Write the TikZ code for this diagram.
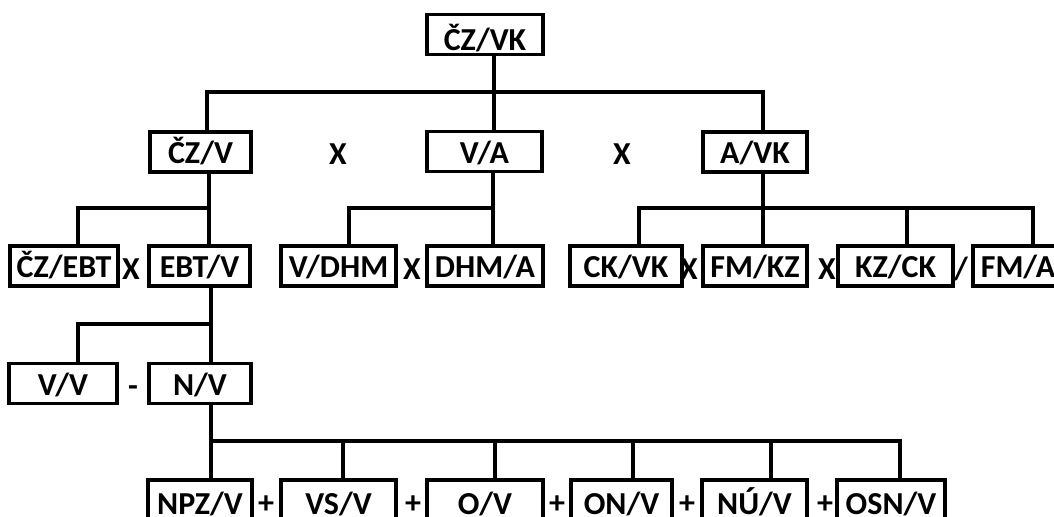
\documentclass[tikz,border=0pt]{standalone}
\usepackage{fontspec}
\setmainfont{Carlito}
\begin{document}
\begin{tikzpicture}[x=0.75pt,y=-0.75pt,
  txt/.style={font=\bfseries\fontsize{24}{27}\selectfont, text height=20.6pt, text depth=3pt, inner sep=0pt},
  box/.style={txt, draw, line width=2.3pt, minimum height=30pt, minimum width=#1*0.75pt},
  lowbox/.style={box=#1, text height=21.4pt, text depth=0pt},
  op/.style={txt},
  lowop/.style={txt, text height=17.6pt, text depth=0pt},
  ln/.style={line width=2.3pt}]
\useasboundingbox (0,0) rectangle (1054,517);
\clip (0,0) rectangle (1054,517);
% level 1
\node[box=116, text height=25.6pt, text depth=2pt] (czvk) at (485,34.5) {ČZ/VK};
% level 2
\node[box=101] (czv) at (200.5,152) {ČZ/V};
\node[box=115] (va) at (484.5,151.5) {V/A};
\node[box=104] (avk) at (755,152) {A/VK};
\node[op] (x1) at (338,153) {X};
\node[op] (x2) at (622,153) {X};
% level 3
\node[box=108] (czebt) at (64,266) {ČZ/EBT};
\node[box=101] (ebtv) at (199.5,266) {EBT/V};
\node[box=115] (vdhm) at (338.5,266) {V/DHM};
\node[box=116] (dhma) at (485,266) {DHM/A};
\node[box=112] (ckvk) at (626,266) {CK/VK};
\node[box=104] (fmkz) at (755,266) {FM/KZ};
\node[box=115] (kzck) at (895.5,266) {KZ/CK};
\node[box=90] (fma) at (1018,266) {FM/A};
\node[op] (x3) at (131,268) {X};
\node[op] (x4) at (412,268) {X};
\node[op] (x5) at (689,268) {X};
\node[op] (x6) at (827,268) {X};
\node[op] (s1) at (961,268) {/};
% level 4
\node[box=108] (vv) at (63,383.5) {V/V};
\node[box=102] (nv) at (200,383.5) {N/V};
\node[op] (m1) at (133,385) {-};
% level 5
\node[lowbox=104] (npzv) at (200,500) {NPZ/V};
\node[lowbox=115] (vsv) at (338.5,500) {VS/V};
\node[lowbox=116] (ov) at (485,500) {O/V};
\node[lowbox=101] (onv) at (621.5,500) {ON/V};
\node[lowbox=105] (nuv) at (754.5,500) {NÚ/V};
\node[lowbox=108] (osnv) at (891,500) {OSN/V};
\node[lowop] (p1) at (266,502) {+};
\node[lowop] (p2) at (413,502) {+};
\node[lowop] (p3) at (557,502) {+};
\node[lowop] (p4) at (687,502) {+};
\node[lowop] (p5) at (825,502) {+};
% connectors level 1 -> 2
\coordinate (t0) at (494,92);
\coordinate (tL) at (207,92);
\coordinate (tR) at (763,92);
\draw[ln] (t0 |- czvk.south) -- (t0 |- va.north);
\draw[ln] (tL |- czv.north) -- (tL) -- (tR) -- (tR |- avk.north);
% CZ/V
\coordinate (a1) at (209,208);
\coordinate (a0) at (78,208);
\draw[ln] (a1 |- czv.south) -- (a1 |- ebtv.north);
\draw[ln] (a1) -- (a0) -- (a0 |- czebt.north);
% V/A
\coordinate (c1) at (493,208);
\coordinate (c0) at (349,208);
\draw[ln] (c1 |- va.south) -- (c1 |- dhma.north);
\draw[ln] (c1) -- (c0) -- (c0 |- vdhm.north);
% A/VK
\coordinate (d0) at (639,208);
\coordinate (d1) at (763,208);
\coordinate (d2) at (907,208);
\coordinate (d3) at (1033,208);
\draw[ln] (d1 |- avk.south) -- (d1 |- fmkz.north);
\draw[ln] (d0 |- ckvk.north) -- (d0) -- (d3) -- (d3 |- fma.north);
\draw[ln] (d2) -- (d2 |- kzck.north);
% EBT/V
\coordinate (e1) at (211,324);
\coordinate (e0) at (78,324);
\draw[ln] (e1 |- ebtv.south) -- (e1 |- nv.north);
\draw[ln] (e1) -- (e0) -- (e0 |- vv.north);
% N/V
\coordinate (f0) at (211,441);
\coordinate (f1) at (343,441);
\coordinate (f2) at (495,441);
\coordinate (f3) at (633,441);
\coordinate (f4) at (771,441);
\coordinate (f5) at (900,441);
\draw[ln] (f0 |- nv.south) -- (f0 |- npzv.north);
\draw[ln] (f0) -- (f5) -- (f5 |- osnv.north);
\draw[ln] (f1) -- (f1 |- vsv.north);
\draw[ln] (f2) -- (f2 |- ov.north);
\draw[ln] (f3) -- (f3 |- onv.north);
\draw[ln] (f4) -- (f4 |- nuv.north);
\end{tikzpicture}
\end{document}
